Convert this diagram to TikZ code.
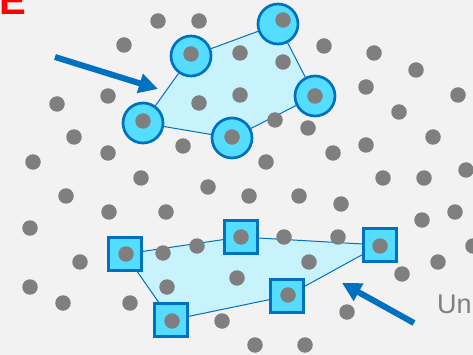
\documentclass[tikz,border=0pt]{standalone}
\usepackage{fontspec}
\setmainfont{Liberation Sans}
\usepackage{tikz}
\usetikzlibrary{arrows.meta, backgrounds}
\definecolor{dotgray}{HTML}{7F7F7F}
\definecolor{linkblue}{HTML}{0070C0}
\definecolor{markcyan}{HTML}{55DDFF}
\definecolor{hullcyan}{HTML}{C8F3FD}
\definecolor{bggray}{HTML}{F2F2F2}
\tikzstyle{pt} = [circle, fill=dotgray, minimum size=15.5pt, inner sep=0pt]
\tikzstyle{ring} = [circle, draw=linkblue, line width=2.7pt, fill=markcyan, minimum size=40pt, inner sep=0pt]
\tikzstyle{box} = [rectangle, draw=linkblue, line width=2.5pt, fill=markcyan, minimum size=33pt, inner sep=0pt]
\tikzstyle{edge} = [draw=linkblue, line width=1pt]
\tikzstyle{arrow} = [draw=linkblue, line width=6pt, -{Triangle[length=19pt,width=19pt]}]

\begin{document}
\begin{tikzpicture}[x=1pt, y=-1pt]
\useasboundingbox (0,0) rectangle (473,355);
\clip (0,0) rectangle (473,355);

% marked points, top group
\node [ring] (a) at (143,123) {};
\node [ring] (b) at (191,56) {};
\node [ring] (c) at (278,24) {};
\node [ring] (d) at (315,96) {};
\node [ring] (e) at (232,138) {};

% marked points, bottom group
\node [box] (f) at (125,254) {};
\node [box] (g) at (241,237) {};
\node [box] (h) at (380,245) {};
\node [box] (i) at (287,296) {};
\node [box] (j) at (171,320) {};

\begin{pgfonlayer}{background}
\fill [bggray] (0,0) rectangle (473,355);
\fill [hullcyan] (a.center) -- (b.center) -- (c.center) -- (d.center) -- (e.center) -- cycle;
\fill [hullcyan] (f.center) -- (g.center) -- (h.center) -- (i.center) -- (j.center) -- cycle;
\end{pgfonlayer}

\draw [edge] (a) -- (b) -- (c) -- (d) -- (e) -- (a);
\draw [edge] (f) -- (g) -- (h) -- (i) -- (j) -- (f);

% all points
\foreach \x/\y [count=\k] in {158/21, 199/21, 124/45, 191/54, 240/53, 57/104, 108/96, 199/103,
  240/95, 143/121, 232/137, 74/137, 183/146, 108/153, 33/162, 141/178, 208/187,
  283/20, 324/46, 374/53, 416/70, 458/95, 283/62, 315/96, 366/87, 399/112,
  275/120, 308/128, 433/137, 366/145, 333/153, 266/162, 383/178, 424/178, 466/170,
  66/196, 109/212, 166/212, 30/228, 126/254, 163/253, 197/246, 80/262, 167/287,
  237/278, 30/287, 63/303, 130/303, 172/321, 222/321, 241/237,
  249/196, 299/196, 341/204, 455/212, 422/220, 473/246, 284/237, 338/237,
  380/246, 309/262, 438/262, 402/274, 288/295, 347/312, 255/345, 305/345}
  \node [pt] (p\k) at (\x,\y) {};

% pointers
\coordinate (t1) at (55,57);
\coordinate (h1) at (158,89);
\draw [arrow] (t1) -- (h1);
\coordinate (t2) at (414,323);
\coordinate (h2) at (342,283);
\draw [arrow] (t2) -- (h2);

\node [anchor=base west, inner sep=0pt, text=red, font=\bfseries\fontsize{40}{40}\selectfont] (tag) at (-1,15) {E};
\node [anchor=base west, inner sep=0pt, text=dotgray, font=\fontsize{27}{27}\selectfont] (lbl) at (437,313) {Un};
\end{tikzpicture}
\end{document}
